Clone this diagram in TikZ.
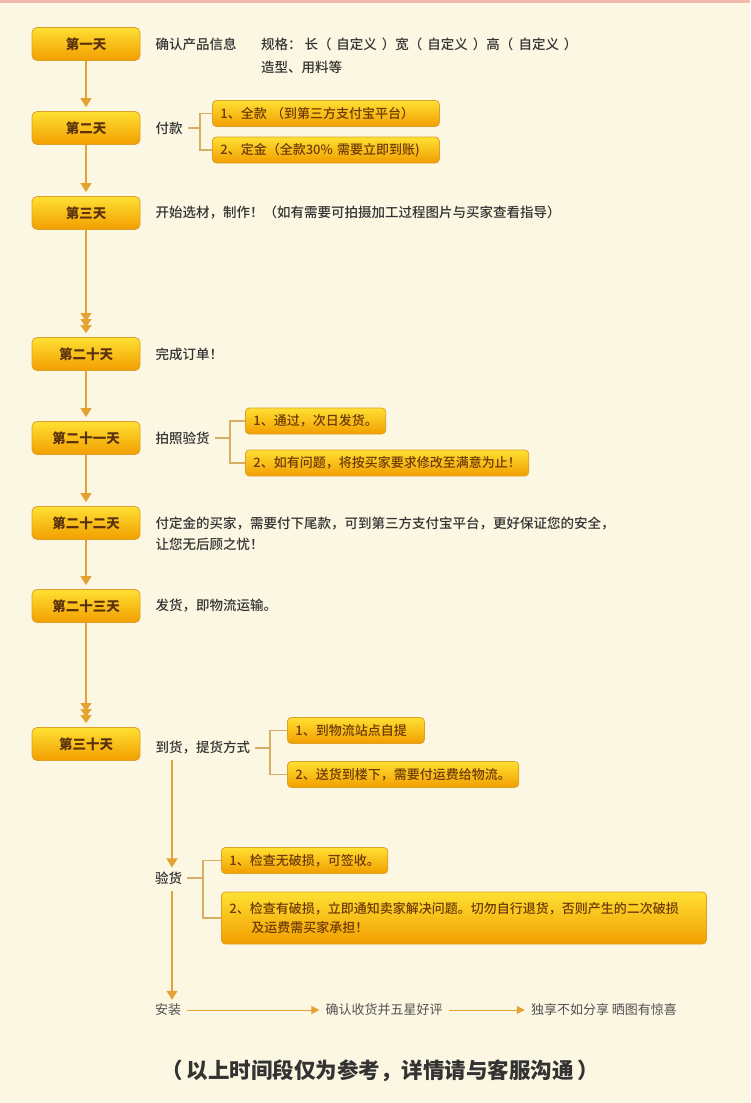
\documentclass[tikz,border=0pt]{standalone}
\usepackage{fontspec}
\setmainfont{Noto Sans CJK SC}
\newfontfamily\medfont{Noto Sans CJK SC}[UprightFont=* Medium]
\usepackage{xcolor}
\usepackage{tikz}
\usetikzlibrary{arrows.meta,positioning,calc}
\definecolor{cream}{HTML}{FCF7E2}
\definecolor{pinkedge}{HTML}{F2B9AE}
\definecolor{goldtop}{HTML}{FFE033}
\definecolor{goldmid}{HTML}{FFC514}
\definecolor{goldbot}{HTML}{F29E00}
\definecolor{goldedge}{HTML}{DDA02A}
\definecolor{daytext}{HTML}{5A310C}
\definecolor{opttext}{HTML}{6E3A06}
\definecolor{flowline}{HTML}{E3A233}
\definecolor{brkline}{HTML}{D6AF63}
\definecolor{labeltext}{HTML}{333333}
\newcommand{\paren}[1]{（\hspace{5pt}#1\hspace{5pt}）}

\begin{document}
\begin{tikzpicture}[x=1pt,y=-1pt,
  gold/.style={draw=goldedge,line width=0.8pt,top color=goldtop,middle color=goldmid,bottom color=goldbot},
  day/.style={gold,rounded corners=5pt,minimum width=108pt,minimum height=33pt,font=\fontsize{13.5}{16}\selectfont\bfseries,text=daytext},
  opt/.style={gold,rounded corners=4pt,anchor=west,minimum height=26pt,inner xsep=8pt,font=\fontsize{13}{19}\selectfont\medfont,text=opttext},
  lbl/.style={inner sep=0pt,font=\fontsize{13.5}{21}\selectfont\medfont,text=labeltext},
  tail/.style={inner sep=0pt,font=\fontsize{13}{16}\selectfont,text=labeltext!85},
  flow/.style={draw=flowline,line width=1.3pt,-{Triangle[length=9pt,width=11pt]},shorten >=4pt},
  flow3/.style={draw=flowline,line width=1.3pt,shorten >=4pt,
    -{Triangle[length=8pt,width=11pt,sep=-2pt]Triangle[length=8pt,width=11pt,sep=-2pt]Triangle[length=8pt,width=11pt]}},
  brk/.style={draw=brkline,line width=1.1pt},
  thinarr/.style={draw=flowline,line width=1pt,-{Triangle[length=8pt,width=8pt]}}
]
\fill[cream] (0,0) rectangle (750,1103);
\fill[pinkedge] (0,0) rectangle (750,2.5);

\node[day] (d1)  at (86,44)  {第一天};
\node[day] (d2)  at (86,128) {第二天};
\node[day] (d3)  at (86,213) {第三天};
\node[day] (d20) at (86,354) {第二十天};
\node[day] (d21) at (86,438) {第二十一天};
\node[day] (d22) at (86,523) {第二十二天};
\node[day] (d23) at (86,606) {第二十三天};
\node[day] (d30) at (86,744) {第三十天};

\draw[flow] (d1) -- (d2);
\draw[flow] (d2) -- (d3);
\draw[flow3] (d3) -- (d20);
\draw[flow] (d20) -- (d21);
\draw[flow] (d21) -- (d22);
\draw[flow] (d22) -- (d23);
\draw[flow3] (d23) -- (d30);

\node[lbl,right=15pt of d1] (info) {确认产品信息};
\node[lbl,right=24pt of info] (spec) {规格：\hspace{3pt}长\paren{自定义}宽\paren{自定义}高\paren{自定义}};
\node[lbl,below=23pt of spec.west,anchor=west] (spec2) {造型、用料等};

\node[lbl,right=15pt of d2] (pay) {付款};
\node[opt,text width=211pt,align=left] (p1) at (212,113.5) {1、全款 （到第三方支付宝平台）};
\node[opt,text width=211pt,align=left] (p2) at (212,150) {2、定金（全款30\% 需要立即到账)};
\draw[brk] (p1.west) -- ++(-12,0) coordinate (pb) |- (p2.west);
\draw[brk] ([xshift=5pt]pay.east) -- (pay.east -| pb);

\node[lbl,right=15pt of d3] (make) {开始选材，制作！（如有需要可拍摄加工过程图片与买家查看指导）};
\node[lbl,right=15pt of d20] (done) {完成订单！};

\node[lbl,right=15pt of d21] (photo) {拍照验货};
\node[opt] (c1) at (245,421) {1、通过，次日发货。};
\node[opt] (c2) at (245,463) {2、如有问题，将按买家要求修改至满意为止！};
\draw[brk] (c1.west) -- ++(-15,0) coordinate (cb) |- (c2.west);
\draw[brk] ([xshift=5pt]photo.east) -- (photo.east -| cb);

\node[lbl,align=left,right=15pt of d22,yshift=-11pt] (rest) {付定金的买家，需要付下尾款，可到第三方支付宝平台，更好保证您的安全，\\让您无后顾之忧！};
\node[lbl,right=15pt of d23] (ship) {发货，即物流运输。};

\node[lbl,right=15pt of d30,yshift=-4pt] (arr) {到货，提货方式};
\node[opt,text width=121pt,align=left] (a1) at (287,730.5) {1、到物流站点自提};
\node[opt] (a2) at (287,774.5) {2、送货到楼下，需要付运费给物流。};
\draw[brk] (a1.west) -- ++(-17,0) coordinate (ab) |- (a2.west);
\draw[brk] ([xshift=5pt]arr.east) -- (arr.east -| ab);

\coordinate (ax) at (172,0);
\node[lbl,anchor=west] (chk) at (155,878) {验货};
\node[opt] (k1) at (221,860.5) {1、检查无破损，可签收。};
\node[opt,text width=469pt,align=left,minimum height=52pt] (k2) at (221,918)
  {2、检查有破损，立即通知卖家解决问题。切勿自行退货，否则产生的二次破损\\\hspace*{22pt}及运费需买家承担！};
\draw[brk] (k1.west) -- ++(-18,0) coordinate (kb) |- (k2.west);
\draw[brk] ([xshift=5pt]chk.east) -- (chk.east -| kb);
\draw[flow,shorten <=5pt] (arr.south -| ax) -- (chk.north -| ax);

\node[tail,anchor=west] (inst) at (155,1010) {安装};
\node[tail,right=144pt of inst] (ok) {确认收货并五星好评};
\node[tail,right=88pt of ok] (share) {独享不如分享 晒图有惊喜};
\draw[flow,shorten <=6pt] (chk.south -| ax) -- (inst.north -| ax);
\draw[thinarr,shorten <=6pt,shorten >=6pt] (inst) -- (ok);
\draw[thinarr,shorten <=6pt,shorten >=6pt] (ok) -- (share);

\node[font=\fontsize{21.5}{24}\selectfont\bfseries,text=labeltext] (note) at (380,1071) {（\hspace{4pt}以上时间段仅为参考，详情请与客服沟通\hspace{4pt}）};
\end{tikzpicture}
\end{document}
